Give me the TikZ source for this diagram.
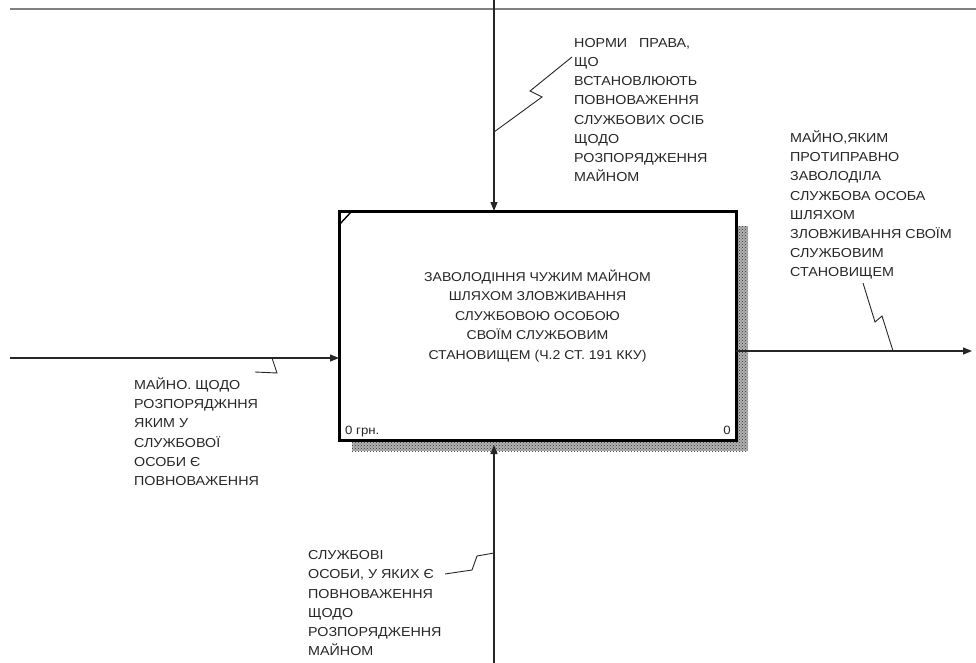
\documentclass[tikz,border=0pt]{standalone}
\usepackage{fontspec}
\setmainfont{Liberation Sans}[FakeStretch=1.1]
\usetikzlibrary{arrows.meta,positioning,calc,patterns}

\tikzset{
    flow/.style={draw=black!85, line width=1.2pt},
    squig/.style={draw=black!85, line width=0.9pt},
    frame/.style={draw=black!50, line width=1.8pt},
    funcbox/.style={draw=black, line width=3pt, minimum width=397pt,
        minimum height=229pt, inner sep=0pt, outer sep=0pt},
    functext/.style={align=center, inner sep=0pt,
        font=\fontsize{12.8}{19.5}\selectfont, text=black!85},
    arrowlbl/.style={anchor=north west, align=left, inner sep=0pt,
        font=\fontsize{13}{19.2}\selectfont, text=black!85},
    cornerlbl/.style={inner sep=0pt, font=\fontsize{12}{13}\selectfont, text=black!85},
    shade/.style={fill=black!30, postaction={pattern=crosshatch dots, pattern color=black!80}},
}

\begin{document}
\begin{tikzpicture}[>={Triangle[length=9pt,width=7pt]}, x=1pt, y=-1pt]
    \useasboundingbox (0,0) rectangle (976,663);

    % shadow and activity box
    \path[shade] (737.5,226) rectangle (748,451);
    \path[shade] (352,441.5) rectangle (737.5,451);
    \node[funcbox, fill=white] (func) at (537.5,325.5) {};
    \node[functext] (funcName) at ($(func.center)+(0,-9.5)$)
        {ЗАВОЛОДІННЯ ЧУЖИМ МАЙНОМ\\ШЛЯХОМ ЗЛОВЖИВАННЯ\\СЛУЖБОВОЮ ОСОБОЮ\\ СВОЇМ СЛУЖБОВИМ\\СТАНОВИЩЕМ (Ч.2 СТ. 191 ККУ)};
    \coordinate (cornA) at ($(func.north west)+(0,14)$);
    \coordinate (cornB) at ($(func.north west)+(13,0)$);
    \draw[line width=1.4pt] (cornA) -- (cornB);
    \node[cornerlbl, anchor=base west] (cost) at ($(func.south west)+(6,-6)$) {0 грн.};
    \node[cornerlbl, anchor=base east] (num) at ($(func.south east)+(-5,-6)$) {0};

    % end points of the arrows
    \coordinate (frameL) at (10,9);
    \coordinate (frameR) at (976,9);
    \coordinate (ctrlTop) at (494,0);
    \coordinate (mechBot) at (494,663);
    \coordinate (inLeft) at (10,358);
    \coordinate (outRight) at (972,351);

    \draw[frame] (frameL) -- (frameR);
    \draw[flow,->] (ctrlTop) -- (ctrlTop |- func.north);
    \draw[flow,->] (mechBot) -- ($(mechBot |- func.south)+(0,5)$);
    \draw[flow,->] (inLeft) -- (inLeft -| func.west);
    \draw[flow,->] (outRight -| func.east) -- (outRight);

    % arrow labels
    \node[arrowlbl] (ctrlLbl) at (574,38)
        {НОРМИ\ \ \ ПРАВА,\\ЩО\\ВСТАНОВЛЮЮТЬ\\ПОВНОВАЖЕННЯ\\СЛУЖБОВИХ ОСІБ\\ЩОДО\\РОЗПОРЯДЖЕННЯ\\МАЙНОМ};
    \node[arrowlbl] (outLbl) at (790,130.5)
        {МАЙНО,ЯКИМ\\ПРОТИПРАВНО\\ЗАВОЛОДІЛА\\СЛУЖБОВА ОСОБА\\ШЛЯХОМ\\ЗЛОВЖИВАННЯ СВОЇМ\\СЛУЖБОВИМ\\СТАНОВИЩЕМ};
    \node[arrowlbl] (inLbl) at (134,377.5)
        {МАЙНО. ЩОДО\\РОЗПОРЯДЖННЯ\\ЯКИМ У\\СЛУЖБОВОЇ\\ОСОБИ Є\\ПОВНОВАЖЕННЯ};
    \node[arrowlbl] (mechLbl) at (308,550.5)
        {СЛУЖБОВІ\\ОСОБИ, У ЯКИХ Є\\ПОВНОВАЖЕННЯ\\ЩОДО\\РОЗПОРЯДЖЕННЯ\\МАЙНОМ};

    % squiggles
    \coordinate (sqCtrl) at (ctrlTop |- 0,132);
    \coordinate (sqOut) at (893,351);
    \coordinate (sqIn) at (272,358);
    \coordinate (sqMech) at (mechBot |- 0,553);
    \draw[squig] ($(ctrlLbl.north west)+(-2,19)$) -- (530,91) -- (542,97) -- (sqCtrl);
    \draw[squig] (863,283) -- (875,322) -- (882,316) -- (sqOut);
    \draw[squig] (sqIn) -- (277,373) -- (255,372);
    \draw[squig] (sqMech) -- (477,556) -- (472,570) -- (445,574);
\end{tikzpicture}
\end{document}
